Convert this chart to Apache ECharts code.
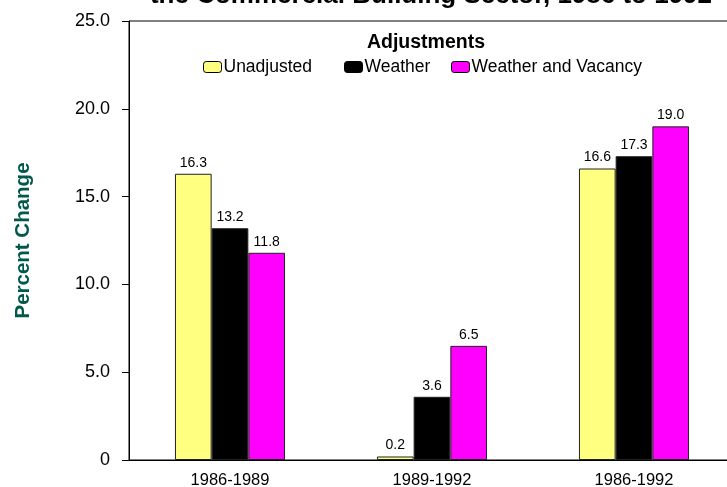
<!DOCTYPE html>
<html>
<head>
<meta charset="utf-8">
<script src="https://cdn.jsdelivr.net/npm/echarts@6/dist/echarts.min.js"></script>
<style>html,body{margin:0;padding:0;background:#fff;overflow:hidden;width:727px;height:487px;}#c{width:735px;height:487px;}</style>
</head>
<body>
<div id="c"></div>
<script>
var categories = ['1986-1989', '1989-1992', '1986-1992'];
var seriesNames = ['Unadjusted', 'Weather', 'Weather and Vacancy'];
var unadjusted = [16.3, 0.2, 16.6];
var weather = [13.2, 3.6, 17.3];
var weatherVacancy = [11.8, 6.5, 19.0];
var yTicks = [0, 5, 10, 15, 20, 25];

var colors = ['#FFFF80', '#000000', '#FF00FF'];
var seriesData = [unadjusted, weather, weatherVacancy];
var FONT = 'Liberation Sans, Arial, sans-serif';

var chart = echarts.init(document.getElementById('c'), null, {renderer: 'canvas'});
var legendLefts = [203, 344, 451];
var option = {
  animation: false,
  backgroundColor: '#ffffff',
  title: [
    {text: 'the Commercial Building Sector, 1986 to 1992', left: 431, textAlign: 'center', top: -17, padding: 0,
     textStyle: {fontFamily: FONT, fontSize: 26, fontWeight: 'bold', color: '#000'}},
    {text: 'Adjustments', left: 426, textAlign: 'center', top: 33, padding: 0,
     textStyle: {fontFamily: FONT, fontSize: 19.5, fontWeight: 'bold', color: '#000'}}
  ],
  legend: seriesNames.map(function (n, i) {
    return {
      data: [n], left: legendLefts[i], top: 58, itemWidth: 18, itemHeight: 11, itemGap: 0,
      padding: 0,
      textStyle: {fontFamily: FONT, fontSize: 17.5, color: '#000', padding: [0, 0, 0, -3]},
      itemStyle: {borderColor: '#000', borderWidth: 1}
    };
  }),
  grid: {left: 129, right: 0, top: 21, bottom: 27, show: true, borderColor: '#000', borderWidth: 1,
         containLabel: false, outerBoundsMode: 'none'},
  xAxis: {
    type: 'category', data: categories,
    axisLine: {lineStyle: {color: '#000', width: 1}},
    axisTick: {show: false},
    axisLabel: {fontFamily: FONT, fontSize: 16.5, color: '#000', margin: 12}
  },
  yAxis: {
    type: 'value', min: yTicks[0], max: yTicks[yTicks.length - 1], interval: 5,
    name: 'Percent Change', nameLocation: 'middle', nameGap: 95, nameRotate: 90,
    nameTextStyle: {fontFamily: FONT, fontSize: 20.5, fontWeight: 'bold', color: '#00594C'},
    axisLine: {show: true, lineStyle: {color: '#000', width: 1}},
    axisTick: {show: true, length: 7, lineStyle: {color: '#000'}},
    splitLine: {show: false},
    axisLabel: {fontFamily: FONT, fontSize: 18, color: '#000', margin: 19,
      formatter: function (v) { return v === 0 ? '0' : v.toFixed(1); }}
  },
  series: seriesNames.map(function (n, i) {
    return {
      name: n, type: 'bar', data: seriesData[i], barGap: '0%', barCategoryGap: '45.5%',
      itemStyle: {color: colors[i], borderColor: '#222', borderWidth: 1},
      label: {show: true, position: 'top', distance: 4, fontFamily: FONT, fontSize: 14, color: '#000',
        formatter: function (p) { return p.value.toFixed(1); }}
    };
  })
};
chart.setOption(option);
</script>
</body>
</html>
